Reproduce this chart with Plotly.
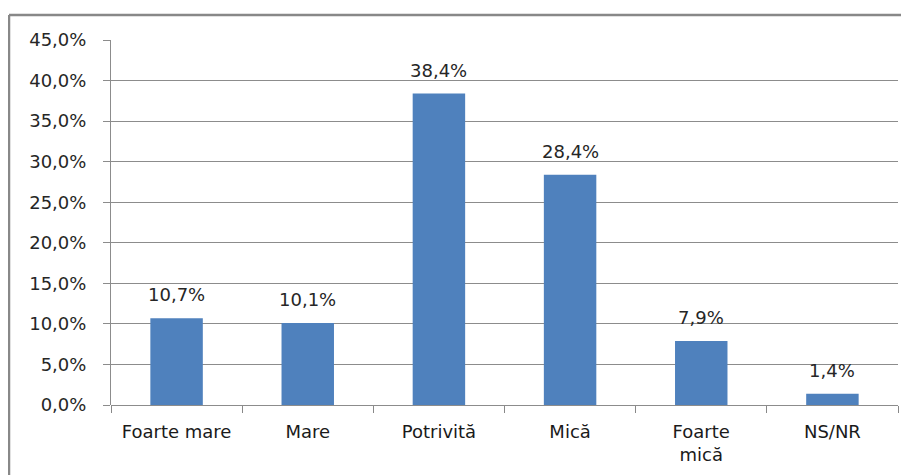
import plotly.graph_objects as go

categories = ["Foarte mare", "Mare", "Potrivită", "Mică", "Foarte<br>mică", "NS/NR"]
values = [10.7, 10.1, 38.4, 28.4, 7.9, 1.4]
y_ticks = [0, 5, 10, 15, 20, 25, 30, 35, 40, 45]

# page body has an 8px margin, so figure coordinates are offset by 8px
L, R, T, B = 103, 19, 32, 78
W, H = 909, 475
pw, ph = W - L - R, H - T - B

FONT = "DejaVu Sans"

fig = go.Figure()
fig.add_trace(go.Bar(
    x=categories, y=values, marker=dict(color="#4F81BD", line=dict(width=0)),
    width=0.4, hoverinfo="skip",
))
for c, v in zip(categories, values):
    fig.add_annotation(x=c, y=v, text=f"{v:.1f}%".replace(".", ","), showarrow=False,
                       yanchor="bottom", yshift=11,
                       font=dict(family=FONT, size=18, color="#262626"))

# outer frame: only top and left edges are visible in the picture
fx0 = (1 - L) / pw
fy1 = 1 + (T - 7) / ph
frame = dict(color="#888888", width=2.5)
fig.add_shape(type="line", xref="paper", yref="paper",
              x0=fx0, x1=(W + 10 - L) / pw, y0=fy1, y1=fy1, line=frame, layer="below")
fig.add_shape(type="line", xref="paper", yref="paper",
              x0=fx0, x1=fx0, y0=-(B + 10) / ph, y1=fy1, line=frame, layer="below")

fig.update_layout(
    width=W, height=H, margin=dict(l=L, r=R, t=T, b=B, autoexpand=False),
    paper_bgcolor="white", plot_bgcolor="white",
    separators=",.", showlegend=False, bargap=0.6,
    font=dict(family=FONT, size=17, color="#262626"),
)
fig.update_xaxes(
    type="category", showline=False, showgrid=False, automargin=False,
    ticks="outside", tickson="boundaries", ticklen=7, tickcolor="#888888",
    ticklabelstandoff=14,
    tickfont=dict(family=FONT, size=18, color="#1a1a1a"),
)
fig.update_yaxes(
    range=[0, 45], tickvals=y_ticks,
    ticktext=[f"{v:.1f}%".replace(".", ",") for v in y_ticks],
    automargin=False,
    showgrid=True, gridcolor="#8c8c8c", gridwidth=1,
    showline=True, linecolor="#8c8c8c", linewidth=1,
    zeroline=True, zerolinecolor="#8c8c8c", zerolinewidth=1,
    ticks="outside", ticklen=7, tickcolor="#8c8c8c", ticklabelstandoff=13,
    tickfont=dict(family=FONT, size=18, color="#262626"),
)
fig.write_html("out.html")
